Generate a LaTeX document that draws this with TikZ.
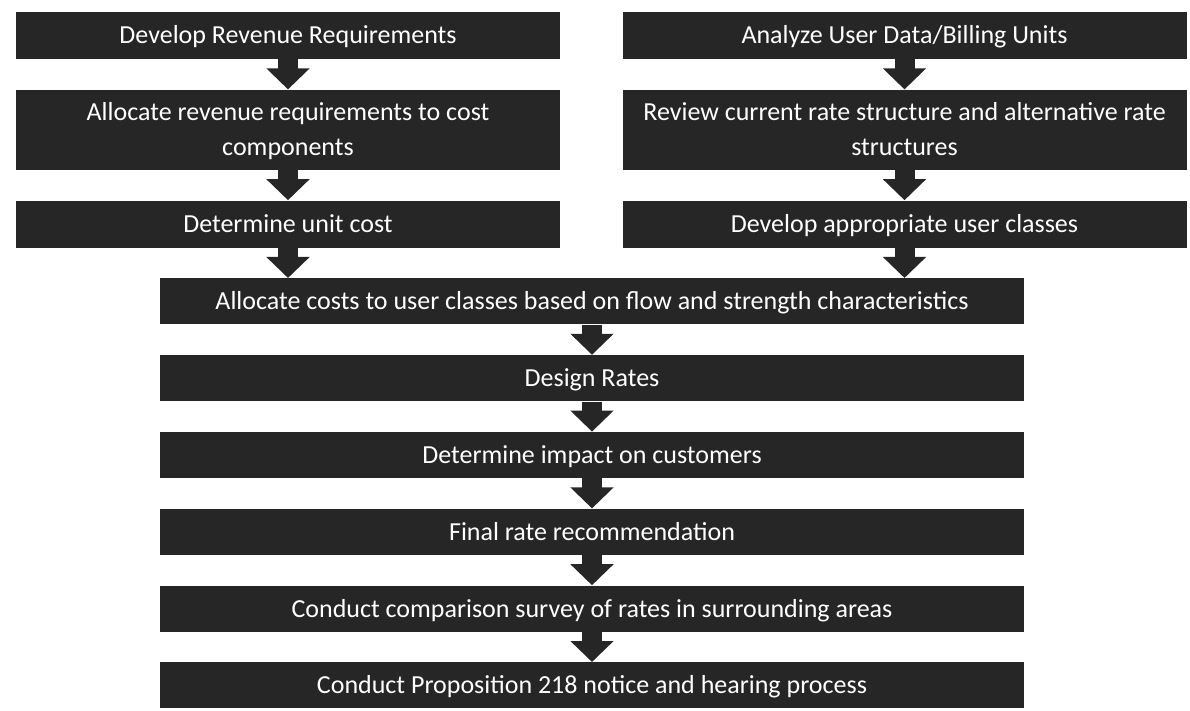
\documentclass[tikz,border=0pt]{standalone}
\usepackage{fontspec}
\setmainfont{Carlito}
\usetikzlibrary{arrows.meta, positioning}
\definecolor{sdark}{HTML}{262626}
\tikzset{
  stepbox/.style={
    fill=sdark, draw=none, text=white, align=center, inner sep=2pt,
    minimum width=#1, minimum height=23.5pt, text height=9.5pt, text depth=1pt,
    font=\fontsize{13}{17.5}\selectfont
  },
  stepbox/.default=272pt,
  twoline/.style={minimum height=40pt, text height=27pt},
  blockarr/.style={draw=sdark, line width=10pt, -{Triangle[width=21pt,length=10.5pt]}}
}
\begin{document}
\begin{tikzpicture}
  \useasboundingbox (0,0) rectangle (595pt,-355.5pt);
  \node[stepbox] (L1) at (144pt,-17.75pt) {Develop Revenue Requirements};
  \node[stepbox,twoline,below=15pt of L1] (L2) {Allocate revenue requirements to cost\\components};
  \node[stepbox,below=15pt of L2] (L3) {Determine unit cost};
  \node[stepbox=282pt] (R1) at (452.25pt,-17.75pt) {Analyze User Data/Billing Units};
  \node[stepbox=282pt,twoline,below=15pt of R1] (R2) {Review current rate structure and alternative rate\\structures};
  \node[stepbox=282pt,below=15pt of R2] (R3) {Develop appropriate user classes};
  \node[stepbox=432pt,minimum height=23pt,anchor=north] (M1) at (296pt,-139pt) {Allocate costs to user classes based on flow and strength characteristics};
  \node[stepbox=432pt,minimum height=23pt,below=15pt of M1] (M2) {Design Rates};
  \node[stepbox=432pt,minimum height=23pt,below=15pt of M2] (M3) {Determine impact on customers};
  \node[stepbox=432pt,minimum height=23pt,below=15pt of M3] (M4) {Final rate recommendation};
  \node[stepbox=432pt,minimum height=23pt,below=15pt of M4] (M5) {Conduct comparison survey of rates in surrounding areas};
  \node[stepbox=432pt,minimum height=23pt,below=15pt of M5] (M6) {Conduct Proposition 218 notice and hearing process};
  \foreach \a/\b in {L1/L2, L2/L3, R1/R2, R2/R3, M1/M2, M2/M3, M3/M4, M4/M5, M5/M6}
    \draw[blockarr] (\a) -- (\b);
  \draw[blockarr] (L3) -- (L3 |- M1.north);
  \draw[blockarr] (R3) -- (R3 |- M1.north);
\end{tikzpicture}
\end{document}
